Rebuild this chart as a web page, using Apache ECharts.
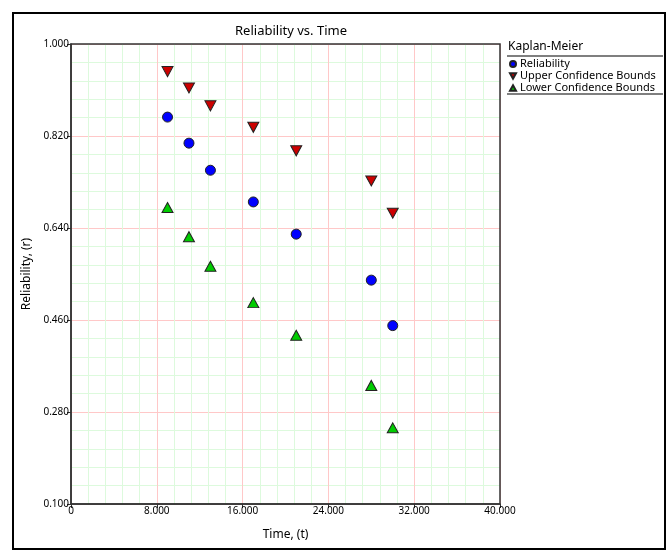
<!DOCTYPE html>
<html>
<head>
<meta charset="utf-8">
<script src="https://cdn.jsdelivr.net/npm/echarts@6/dist/echarts.min.js"></script>
<style>
  html, body { margin: 0; padding: 0; background: #fff; }
  #main { width: 672px; height: 559px; }
</style>
</head>
<body>
<div id="main"></div>
<script>
// data
var times = [9000, 11000, 13000, 17000, 21000, 28000, 30000];
var reliability = [0.857, 0.806, 0.753, 0.691, 0.628, 0.538, 0.449];
var upperBound = [0.946, 0.914, 0.879, 0.837, 0.791, 0.732, 0.669];
var lowerBound = [0.680, 0.623, 0.565, 0.494, 0.430, 0.332, 0.249];

var FONT = 'Noto Sans';
var DOWN_TRI = 'path://M0,0 L10,0 L5,9 Z';
var UP_TRI = 'path://M5,0 L10,9 L0,9 Z';

function pairs(ys) {
  return times.map(function (t, i) { return [t, ys[i]]; });
}

var myChart = echarts.init(document.getElementById('main'));

var axisCommon = {
  axisLine: { show: true, lineStyle: { color: '#333', width: 1.5 } },
  axisTick: { show: true, length: 4, lineStyle: { color: '#333' } },
  splitLine: { show: true, lineStyle: { color: '#ffc8c8', width: 1 } },
  minorTick: { show: false, splitNumber: 5 },
  minorSplitLine: { show: true, lineStyle: { color: '#ddfadd', width: 1 } }
};

var option = {
  backgroundColor: '#fff',
  animation: false,
  textStyle: { fontFamily: FONT },
  title: {
    text: 'Reliability vs. Time',
    left: 286,
    textAlign: 'center',
    top: 20,
    textStyle: { fontFamily: FONT, fontSize: 13, fontWeight: 'normal', color: '#000' }
  },
  grid: {
    left: 71, top: 44, right: 172, bottom: 55,
    show: true, borderColor: '#333', borderWidth: 0, backgroundColor: '#fff'
  },
  legend: {
    orient: 'vertical',
    left: 509,
    top: 58,
    padding: 0,
    itemGap: 0,
    itemWidth: 6,
    itemHeight: 6,
    textStyle: { fontFamily: FONT, fontSize: 11, lineHeight: 12, color: '#000', padding: [0, 0, 0, -1] },
    data: ['Reliability', 'Upper Confidence Bounds', 'Lower Confidence Bounds']
  },
  xAxis: Object.assign({}, axisCommon, {
    type: 'value',
    min: 0, max: 40000, interval: 8000,
    name: 'Time, (t)',
    nameLocation: 'middle',
    nameGap: 25,
    nameTextStyle: { fontFamily: FONT, fontSize: 12, color: '#000' },
    axisLabel: {
      fontFamily: FONT, fontSize: 10, color: '#000', margin: 2,
      formatter: function (v) { return v === 0 ? '0' : (v / 1000).toFixed(3); }
    }
  }),
  yAxis: Object.assign({}, axisCommon, {
    type: 'value',
    min: 0.1, max: 1.0, interval: 0.18,
    name: 'Reliability, (r)',
    nameLocation: 'middle',
    nameGap: 35,
    nameTextStyle: { fontFamily: FONT, fontSize: 12, color: '#000' },
    axisLabel: {
      fontFamily: FONT, fontSize: 10, color: '#000', margin: 2,
      formatter: function (v) { return v.toFixed(3); }
    }
  }),
  series: [
    {
      name: 'Reliability',
      type: 'scatter',
      symbol: 'circle',
      symbolSize: 10,
      itemStyle: { color: '#0000ff', borderColor: '#222', borderWidth: 1, opacity: 1 },
      data: pairs(reliability)
    },
    {
      name: 'Upper Confidence Bounds',
      type: 'scatter',
      symbol: DOWN_TRI,
      symbolSize: [11, 10],
      itemStyle: { color: '#cc0000', borderColor: '#222', borderWidth: 1, opacity: 1 },
      data: pairs(upperBound)
    },
    {
      name: 'Lower Confidence Bounds',
      type: 'scatter',
      symbol: UP_TRI,
      symbolSize: [11, 10],
      itemStyle: { color: '#00cc00', borderColor: '#222', borderWidth: 1, opacity: 1 },
      data: pairs(lowerBound)
    }
  ],
  graphic: [
    {
      type: 'rect',
      shape: { x: 13, y: 13, width: 652, height: 536 },
      style: { fill: 'none', stroke: '#000', lineWidth: 2 },
      silent: true
    },
    {
      // plot frame drawn over the grid lines
      type: 'rect',
      z: 100,
      shape: { x: 71, y: 44, width: 429, height: 460 },
      style: { fill: 'none', stroke: '#333', lineWidth: 1.5 },
      silent: true
    },
    {
      type: 'text',
      left: 508, top: 41,
      style: { text: 'Kaplan-Meier', font: '12px "Noto Sans"', fill: '#000' }
    },
    {
      type: 'line',
      shape: { x1: 507, y1: 56, x2: 663, y2: 56 },
      style: { stroke: '#555', lineWidth: 1.5 }
    },
    {
      type: 'line',
      shape: { x1: 507, y1: 94, x2: 663, y2: 94 },
      style: { stroke: '#555', lineWidth: 1.5 }
    }
  ]
};

myChart.setOption(option);
</script>
</body>
</html>
